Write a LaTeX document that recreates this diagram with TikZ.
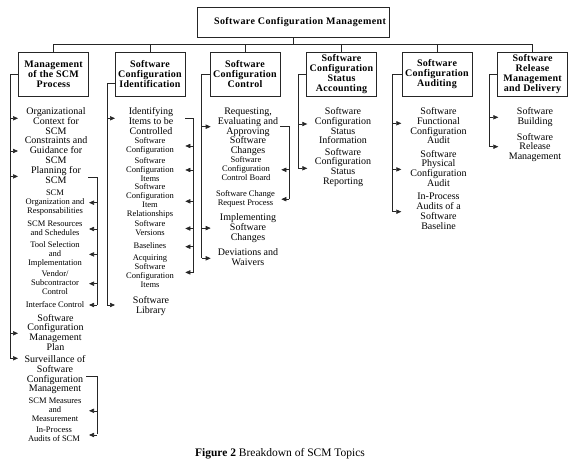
\documentclass[tikz,border=0pt]{standalone}
\usepackage{fontspec}
\setmainfont{Liberation Serif}
\newfontfamily\hdfont{Liberation Serif}[LetterSpace=2.5]
\newfontfamily\ttlfont{Liberation Serif}[LetterSpace=4]
\usetikzlibrary{arrows.meta,calc}
\begin{document}
\begin{tikzpicture}[x=1pt,y=-1pt,
  line/.style={draw=black!85,line width=0.6pt},
  arr/.style={line,-{Triangle[length=5pt,width=4.3pt]}},
  hbox/.style={draw=black!85,line width=0.6pt,minimum width=70pt,minimum height=44pt,inner sep=0pt,align=center,font=\hdfont\bfseries\fontsize{10}{10}\selectfont},
  item/.style={inner sep=0pt,align=center,font=\fontsize{10}{9.7}\selectfont,execute at begin node={\rule{0pt}{7pt}},execute at end node={\rule[-2.2pt]{0pt}{2.2pt}}},
  sub/.style={inner sep=0pt,align=center,font=\fontsize{8.5}{9}\selectfont,execute at begin node={\rule{0pt}{6pt}},execute at end node={\rule[-1.9pt]{0pt}{1.9pt}}}]
\useasboundingbox (0,0) rectangle (573,465);

% top and boxes
\node[hbox,minimum width=192pt,minimum height=30pt,font=\ttlfont\bfseries\fontsize{10}{10}\selectfont,execute at begin node={\hspace*{14pt}}] (top) at (293,22) {Software Configuration Management};
\node[hbox] (b1) at (53.5,74) {Management\\of the SCM\\Process};
\node[hbox] (b2) at (150,74) {Software\\Configuration\\Identification};
\node[hbox] (b3) at (245,74) {Software\\Configuration\\Control};
\node[hbox] (b4) at (341.5,74) {Software\\Configuration\\Status\\Accounting};
\node[hbox] (b5) at (437,74) {Software\\Configuration\\Auditing};
\node[hbox] (b6) at (532.5,74) {Software\\Release\\Management\\and Delivery};

\coordinate (bus) at (293,44);
\draw[line] (top.south) -- (bus);
\draw[line] (b1.north) -- (b1.north |- bus) -- (b6.north |- bus) -- (b6.north);
\foreach \b in {b2,b3,b4,b5} \draw[line] (\b.north) -- (\b.north |- bus);

% column 1
\node[item] (o1) at (56,122) {Organizational\\Context for\\SCM};
\node[item] (o2) at (56,151) {Constraints and\\Guidance for\\SCM};
\node[item] (o3) at (56,176.4) {Planning for\\SCM};
\node[sub] (s1) at (55,202.7) {SCM\\Organization and\\Responsabilities};
\node[sub] (s2) at (55,229) {SCM Resources\\and Schedules};
\node[sub] (s3) at (55,254.4) {Tool Selection\\and\\Implementation};
\node[sub] (s4) at (55,283.7) {Vendor/\\Subcontractor\\Control};
\node[sub] (s5) at (55,305) {Interface Control};
\node[item] (o4) at (55.5,333.3) {Software\\Configuration\\Management\\Plan};
\node[item] (o5) at (55,374.8) {Surveillance of\\Software\\Configuration\\Management};
\node[sub] (s6) at (55,410.8) {SCM Measures\\and\\Measurement};
\node[sub] (s7) at (54,435) {In-Process\\Audits of SCM};

\coordinate (sp1) at (10,358.3);
\draw[line] (b1.west) -| (sp1);
\draw[arr] ($(sp1 |- o1)+(0,-3.7)$) -- ++(8,0);
\draw[arr] (sp1 |- o2) -- ++(8,0);
\draw[arr] (sp1 |- o3) -- ++(8,0);
\draw[arr] (sp1 |- o4) -- ++(8,0);
\draw[arr] (sp1) -- ++(8,0);
\coordinate (k1a) at (88,177.7);
\coordinate (k1b) at (97,305);
\draw[line] (k1a) -| (k1b);
\foreach \s in {s1,s2,s3,s4,s5} \draw[arr] (k1b |- \s) -- ++(-8,0);
\coordinate (k2a) at (86,376);
\coordinate (k2b) at (97,434.3);
\draw[line] (k2a) -| (k2b);
\foreach \s in {s6,s7} \draw[arr] (k2b |- \s) -- ++(-8,0);

% column 2
\node[item] (i1) at (151,122) {Identifying\\Items to be\\Controlled};
\node[sub] (t1) at (150,146) {Software\\Configuration};
\node[sub] (t2) at (150,170) {Software\\Configuration\\Items};
\node[sub] (t3) at (150,201.3) {Software\\Configuration\\Item\\Relationships};
\node[sub] (t4) at (150,228.5) {Software\\Versions};
\node[sub] (t5) at (150,246.7) {Baselines};
\node[sub] (t6) at (150,272.4) {Acquiring\\Software\\Configuration\\Items};
\node[item] (i2) at (151,306) {Software\\Library};

\coordinate (sp2) at (107,305);
\draw[line] ([yshift=-9pt]b2.west) -| (sp2);
\draw[arr] ($(sp2 |- i1)+(0,-3.7)$) -- ++(8,0);
\draw[arr] (sp2) -- ++(8,0);
\coordinate (k3a) at (185,118.3);
\coordinate (k3b) at (193.3,273);
\draw[line] (k3a) -| (k3b);
\foreach \s in {t1,t2,t3,t4,t5,t6} \draw[arr] (k3b |- \s) -- ++(-8,0);

% column 3
\node[item] (r1) at (248,131.8) {Requesting,\\Evaluating and\\Approving\\Software\\Changes};
\node[sub] (u1) at (246,169.8) {Software\\Configuration\\Control Board};
\node[sub] (u2) at (245.5,199.2) {Software Change\\Request Process};
\node[item] (r2) at (248,228.1) {Implementing\\Software\\Changes};
\node[item] (r3) at (248,258.3) {Deviations and\\Waivers};

\coordinate (sp3) at (201.7,258.3);
\draw[line] (b3.west) -| (sp3);
\draw[arr] ($(sp3 |- r1)+(0,-5.1)$) -- ++(9,0);
\draw[arr] (sp3 |- r2) -- ++(9,0);
\draw[arr] (sp3) -- ++(9,0);
\coordinate (k4a) at (280,126.7);
\coordinate (k4b) at (289.3,199);
\draw[line] (k4a) -| (k4b);
\foreach \s in {u1,u2} \draw[arr] (k4b |- \s) -- ++(-8,0);

% column 4
\node[item] (v1) at (343,127) {Software\\Configuration\\Status\\Information};
\node[item] (v2) at (343,167.3) {Software\\Configuration\\Status\\Reporting};
\coordinate (sp4) at (298.3,168.3);
\draw[line] (b4.west) -| (sp4);
\draw[arr] ($(sp4 |- v1)+(0,-3)$) -- ++(9,0);
\draw[arr] (sp4) -- ++(9,0);

% column 5
\node[item] (w1) at (438.5,127) {Software\\Functional\\Configuration\\Audit};
\node[item] (w2) at (438.5,169.4) {Software\\Physical\\Configuration\\Audit};
\node[item] (w3) at (438.5,212.3) {In-Process\\Audits of a\\Software\\Baseline};
\coordinate (sp5) at (392.3,211.7);
\draw[line] (b5.west) -| (sp5);
\draw[arr] ($(sp5 |- w1)+(0,-3.7)$) -- ++(9,0);
\draw[arr] (sp5 |- w2) -- ++(9,0);
\draw[arr] (sp5) -- ++(9,0);

% column 6
\node[item] (x1) at (535,117.3) {Software\\Building};
\node[item] (x2) at (535,147.4) {Software\\Release\\Management};
\coordinate (sp6) at (489.3,146.7);
\draw[line] (b6.west) -| (sp6);
\draw[arr] (sp6 |- x1) -- ++(9,0);
\draw[arr] (sp6) -- ++(9,0);

% caption
\node[inner sep=0pt,font=\fontsize{11.5}{13}\selectfont] (cap) at (280,454) {\textbf{Figure 2} Breakdown of SCM Topics};
\end{tikzpicture}
\end{document}
